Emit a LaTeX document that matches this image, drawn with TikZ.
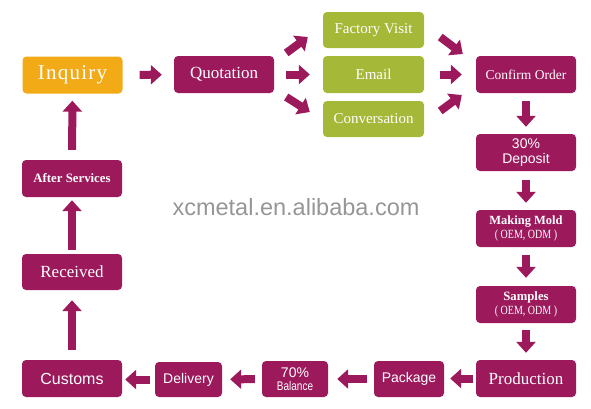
\documentclass[tikz,border=0pt]{standalone}
\usepackage{fontspec}
\setmainfont{Liberation Serif}
\setsansfont{Liberation Sans}
\newfontfamily\narrowsans[FakeStretch=0.8]{Liberation Sans}
\newfontfamily\narrowserif[FakeStretch=0.8]{Liberation Serif}
\newfontfamily\spacedserif[LetterSpace=6]{Liberation Serif}
\usetikzlibrary{arrows.meta,calc}
\definecolor{mag}{RGB}{156,26,92}
\definecolor{grn}{RGB}{166,184,56}
\definecolor{org}{RGB}{242,170,22}
\definecolor{wm}{RGB}{150,150,150}
\newcommand{\fs}[1]{\fontsize{#1}{#1}\selectfont}
\tikzset{
  box/.style={rectangle, rounded corners=4pt, fill=mag, text=white, inner sep=0pt, minimum width=100pt, minimum height=37pt, align=center},
  gbox/.style={box, fill=grn, minimum width=101pt},
  obox/.style={box, fill=org},
  barrow/.style={draw=mag, line width=8pt, -{Triangle[width=19pt,length=11pt]}},
}
\begin{document}
\begin{tikzpicture}[x=1pt,y=-1pt]
\useasboundingbox (0,0) rectangle (591,408);
% watermark
\node[text=wm, font=\sffamily\fs{23.5}] (wmk) at (296,207) {xcmetal.en.alibaba.com};
% top row
\node[obox, font=\spacedserif\fs{21}] (inq) at (72.5,75) {Inquiry};
\node[box, font=\fs{17}] (quo) at (224,74.5) {Quotation};
\node[gbox, minimum height=36pt, font=\fs{15}] (fv) at (373.5,30) {Factory Visit};
\node[gbox, font=\fs{15}] (em) at (373.5,74.5) {Email};
\node[gbox, minimum height=36pt, font=\fs{15}] (co) at (373.5,119) {Conversation};
\node[box, font=\fs{13.5}] (cfo) at (526,74.5) {Confirm Order};
% right column
\node[box, font=\sffamily\fs{14}] (dep) at (526,152.5) {30\%\\[1pt]Deposit};
\node[box, font=\bfseries\fs{12.5}] (mold) at (526,228.5) {Making Mold\\[2pt]{\mdseries\narrowserif\fs{12.5}( OEM, ODM )}};
\node[box, font=\bfseries\fs{12.7}] (samp) at (526,304.5) {Samples\\[2pt]{\mdseries\narrowserif\fs{12.5}( OEM, ODM )}};
\node[box, font=\fs{17}] (prod) at (526,378.5) {Production};
% bottom row
\node[box, minimum width=70pt, minimum height=36pt, font=\sffamily\fs{14}] (pack) at (409,379) {Package};
\node[box, minimum width=66pt, minimum height=36pt] (bal) at (295,379) {{\sffamily\fs{14}70\%}\\[1pt]{\narrowsans\fs{12.5}Balance}};
\node[box, minimum width=67pt, minimum height=35pt, font=\sffamily\fs{14}] (deliv) at (188.5,379.5) {Delivery};
\node[box, font=\sffamily\fs{16}] (cust) at (72,378.5) {Customs};
% left column
\node[box, minimum height=36pt, font=\fs{17}] (rec) at (72,272) {Received};
\node[box, font=\bfseries\fs{12.8}] (aft) at (72,178.5) {After Services};
% arrows
\draw[barrow, shorten <=17pt, shorten >=12pt] (inq) -- (quo);
\draw[barrow, shorten <=12pt, shorten >=13pt] (quo) -- (em);
\draw[barrow] ($(quo.east)+(12,-21.5)$) -- ($(fv.west)+(-15,7)$);
\draw[barrow] ($(quo.east)+(12,22.5)$) -- ($(co.west)+(-13,-7)$);
\draw[barrow, shorten <=16pt, shorten >=14pt] (em) -- (cfo);
\draw[barrow] ($(fv.east)+(16,7)$) -- ($(cfo.west)+(-13,-20.5)$);
\draw[barrow] ($(co.east)+(16,-8)$) -- ($(cfo.west)+(-14,20.5)$);
\draw[barrow, shorten <=8pt, shorten >=7pt] (cfo) -- (dep);
\draw[barrow, shorten <=9pt, shorten >=7pt] (dep) -- (mold);
\draw[barrow, shorten <=8pt, shorten >=8pt] (mold) -- (samp);
\draw[barrow, shorten <=7pt, shorten >=7pt] (samp) -- (prod);
\draw[barrow, shorten <=3pt, shorten >=6pt] (prod) -- (prod -| pack.east);
\draw[barrow, shorten <=7pt, shorten >=9pt] (pack) -- (bal);
\draw[barrow, shorten <=7pt, shorten >=8pt] (bal) -- (deliv);
\draw[barrow, shorten <=5pt, shorten >=3pt] (deliv) -- (deliv -| cust.east);
\draw[barrow, shorten <=10pt, shorten >=10pt] (cust) -- (rec);
\draw[barrow, shorten <=4pt, shorten >=3pt] (rec) -- (aft);
\draw[barrow, shorten <=10pt, shorten >=7pt] (aft) -- (inq);
\end{tikzpicture}
\end{document}
